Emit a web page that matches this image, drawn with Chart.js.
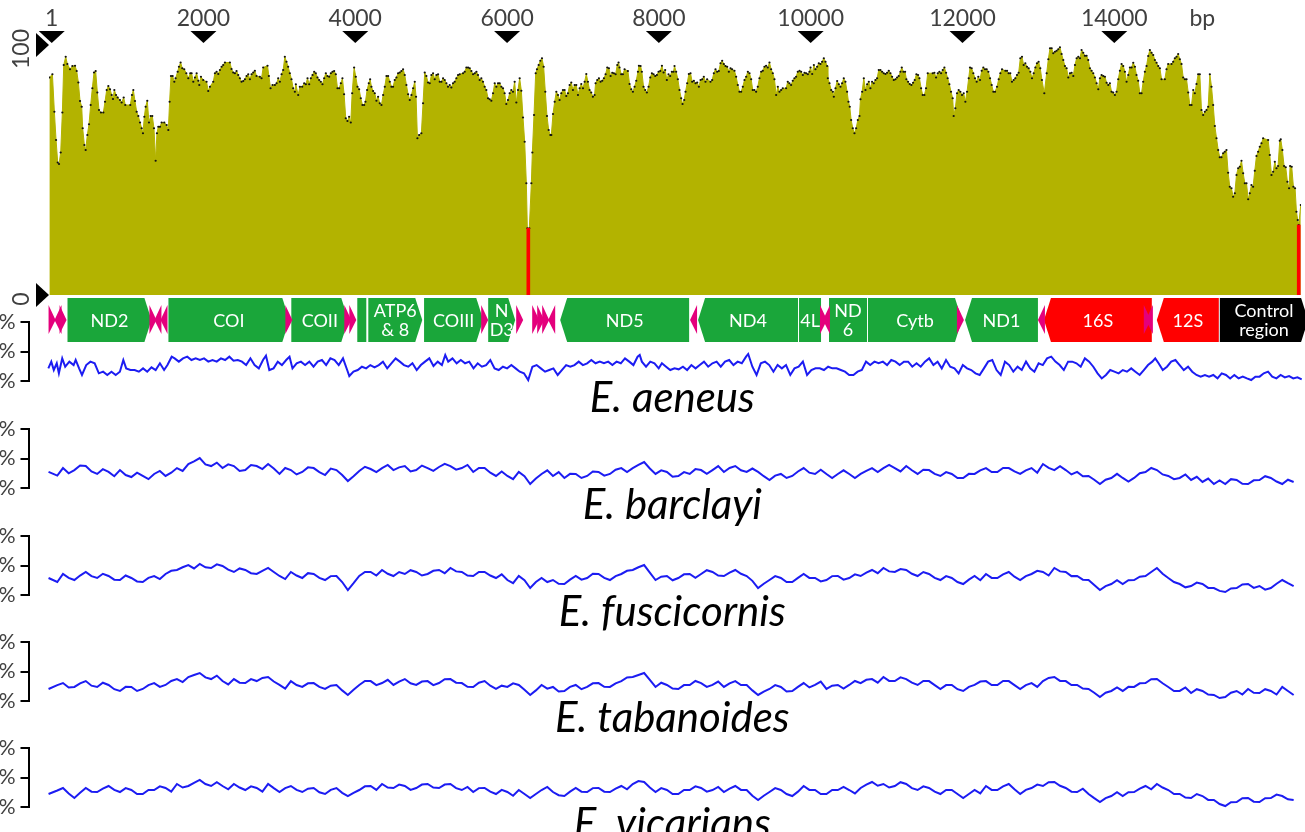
<!DOCTYPE html>
<html><head><meta charset="utf-8">
<script src="https://cdn.jsdelivr.net/npm/chart.js@4.4.0/dist/chart.umd.min.js"></script>
<style>
html,body{margin:0;padding:0;background:#fff;width:1305px;height:832px;overflow:hidden;position:relative;}
canvas{position:absolute;}
</style></head><body>
<canvas id="cov" width="1305" height="346" style="left:0;top:0"></canvas>
<canvas id="p1" width="1345" height="111" style="left:-40px;top:310px"></canvas>
<canvas id="p2" width="1345" height="111" style="left:-40px;top:417px"></canvas>
<canvas id="p3" width="1345" height="111" style="left:-40px;top:524px"></canvas>
<canvas id="p4" width="1345" height="111" style="left:-40px;top:630px"></canvas>
<canvas id="p5" width="1345" height="111" style="left:-40px;top:736px"></canvas>
<script>
// ---------- DATA ----------
const xTickValues = [1,2000,4000,6000,8000,10000,12000,14000];
const xTickLabels = ['1','2000','4000','6000','8000','10000','12000','14000'];
const unitLabel = 'bp';
const unitLabelPos = 15160;
const yTickValues = [0,100];
const yTickLabels = ['0','100'];

// coverage (identity %) along the mitogenome, bp positions
const covPos = [
-30,10,36,58,80,97,119,141,159,185,
207,242,273,308,330,352,374,396,409,431,
448,470,492,514,536,558,580,602,624,650,
681,703,725,747,769,791,808,826,848,870,
900,922,949,970,1036,1058,1076,1098,1120,1142,
1164,1186,1203,1221,1238,1260,1282,1304,1326,1348,
1370,1387,1405,1427,1449,1484,1515,1537,1554,1572,
1594,1616,1633,1660,1677,1699,1721,1747,1774,1800,
1826,1844,1866,1888,1910,1932,1945,1967,1997,2041,
2063,2085,2129,2151,2173,2195,2217,2239,2260,2283,
2348,2370,2392,2414,2436,2458,2480,2502,2524,2546,
2568,2590,2612,2634,2656,2677,2699,2743,2765,2787,
2844,2862,2884,2910,2941,2963,2985,3007,3029,3050,
3072,3094,3116,3138,3160,3182,3204,3217,3248,3270,
3301,3327,3349,3371,3393,3415,3437,3459,3480,3502,
3524,3546,3568,3590,3612,3634,3656,3678,3700,3722,
3744,3766,3788,3810,3831,3853,3875,3897,3919,3941,
3959,3985,4007,4029,4051,4073,4095,4117,4134,4156,
4178,4196,4213,4235,4257,4279,4301,4323,4345,4367,
4389,4411,4433,4455,4477,4498,4520,4542,4564,4586,
4608,4630,4652,4674,4696,4718,4740,4762,4784,4801,
4819,4841,4871,4893,4915,4937,4959,4981,5003,5025,
5047,5069,5091,5113,5135,5157,5179,5201,5222,5244,
5266,5288,5310,5332,5354,5376,5420,5442,5464,5486,
5508,5530,5552,5574,5596,5617,5639,5661,5683,5705,
5727,5749,5771,5793,5815,5837,5859,5881,5903,5925,
5947,5968,5990,6012,6034,6056,6078,6100,6122,6144,
6166,6188,6210,6232,6254,6267,6293,6320,6333,6355,
6377,6394,6416,6438,6460,6482,6504,6526,6548,6570,
6583,6605,6627,6649,6671,6692,6714,6736,6758,6780,
6802,6824,6846,6868,6890,6912,6934,6956,6978,7000,
7022,7044,7065,7087,7109,7131,7153,7166,7188,7210,
7232,7254,7276,7298,7320,7342,7364,7386,7408,7430,
7452,7469,7482,7504,7526,7548,7592,7614,7636,7658,
7680,7702,7724,7737,7759,7776,7798,7820,7842,7864,
7886,7908,7930,7952,7974,7996,8018,8040,8062,8083,
8105,8127,8149,8171,8193,8206,8228,8250,8272,8294,
8312,8334,8351,8373,8395,8417,8439,8461,8483,8505,
8527,8549,8571,8592,8614,8636,8680,8702,8724,8746,
8768,8790,8812,8834,8856,8878,8900,8922,8944,8965,
8996,9018,9040,9062,9084,9106,9128,9150,9172,9194,
9216,9237,9259,9281,9303,9325,9347,9369,9391,9413,
9435,9457,9479,9501,9523,9545,9567,9589,9610,9632,
9676,9698,9720,9742,9764,9786,9808,9830,9853,9875,
9897,9919,9941,9963,9984,9998,10020,10042,10063,10085,
10107,10129,10151,10173,10195,10217,10226,10248,10270,10292,
10305,10327,10349,10371,10393,10414,10436,10458,10480,10498,
10515,10533,10555,10577,10599,10621,10643,10656,10678,10700,
10722,10744,10766,10787,10809,10831,10853,10875,10897,10919,
10941,10963,10985,11007,11029,11051,11073,11095,11117,11138,
11160,11182,11200,11222,11244,11261,11283,11305,11327,11349,
11371,11393,11415,11433,11455,11476,11498,11520,11542,11608,
11630,11652,11674,11696,11718,11740,11762,11784,11805,11827,
11849,11871,11884,11906,11928,11950,11972,11994,12016,12038,
12060,12082,12099,12121,12143,12165,12187,12209,12231,12253,
12275,12297,12319,12341,12363,12385,12407,12429,12455,12477,
12499,12521,12565,12587,12608,12630,12652,12674,12696,12718,
12740,12762,12784,12806,12828,12850,12872,12894,12916,12938,
12960,12981,13003,13025,13047,13078,13109,13131,13153,13175,
13196,13218,13240,13262,13284,13306,13328,13350,13372,13394,
13416,13438,13460,13482,13504,13526,13548,13569,13591,13613,
13635,13657,13679,13701,13723,13745,13767,13789,13811,13833,
13855,13877,13899,13921,13942,13964,13986,14008,14030,14052,
14074,14096,14118,14140,14162,14184,14206,14228,14250,14272,
14293,14315,14337,14359,14381,14403,14425,14447,14469,14491,
14513,14535,14557,14579,14601,14623,14666,14688,14710,14754,
14776,14798,14820,14842,14864,14886,14908,14930,14952,14974,
14996,15018,15040,15061,15083,15105,15127,15149,15171,15193,
15215,15237,15259,15281,15303,15325,15347,15369,15390,15412,
15434,15456,15478,15500,15522,15544,15566,15588,15610,15632,
15654,15676,15698,15720,15742,15764,15785,15807,15829,15851,
15873,15895,15917,15939,15961,16027,16049,16071,16093,16115,
16137,16158,16180,16193,16215,16237,16259,16281,16303,16316,
16338,16360,16382,16400,16417,16430,16457
];
const covVal = [
87,88.3,73.3,62,53,52.4,57,73,92,95.3,
92.4,90.3,91.6,91.7,89.6,85,77.6,75.3,66.7,60,
58,64,68.3,76,82.7,89,89.6,81,74,73,
73,77.3,82,83.6,82.3,80,78.4,82,80,79,
78,77,79,76,76,80,82,77.6,73.3,71.6,
69,66.7,64.7,71.3,75.3,77.7,69,71.6,71.6,66.7,
53.7,64.7,67.3,67.3,69,69,68,66,77.3,87.6,
87.6,85.3,86.7,89.3,91.3,93,90.7,90.3,88.7,86.7,
88.7,88.7,85.3,87,88.7,85.7,84,87.3,86,85.3,
81.6,83.3,85.3,88.7,89.3,88.4,90,91.3,92,93,
93,90.4,89,88.7,89.6,88,86.7,85.3,85.6,86.3,
87.6,88.3,86.3,88.3,89,89.7,87.6,87.3,86.7,91,
91.7,87.6,82.7,84,84,84.7,86.7,85.3,88.3,90,
95.3,93.3,91.3,88.7,86.3,82.7,81.3,84.3,80,83.3,
83.3,84.7,84.3,86.7,84.3,86.7,88,89.3,88.7,87,
86,85.3,84.3,86.7,88.7,87.6,87.3,88.7,89.3,89.6,
88.3,82.7,82.7,84.7,86.7,80.3,70.7,69.6,71.3,69,
80.7,91,87.3,83.3,82.3,78.7,76,76,77.3,82,
84.7,86.3,83.3,81.6,80.7,77.7,79.3,76.7,76,80,
83.3,87.6,87.6,85.3,83.3,83.3,86,87,88.7,89,
89.6,90.3,88,84,80.3,78,80,82.7,85.3,79.3,
62.7,64,64.7,76.7,89,87.6,85,84.7,88,88.7,
86.3,88,88.3,85.3,85.3,86.7,86,84.7,83.3,84,
83,84.7,85.3,86.7,88,88.3,88.7,89.3,91,91,
90.7,89.6,88.3,88.7,89.3,88,86,86.7,85.3,83.3,
82,78.7,78.3,77.7,80.7,84.7,83.3,84.7,84.7,83.3,
82.7,80.7,76.4,78,80.7,82,81.3,85.3,77,82,
86.7,81.7,71,61.3,44.7,26.7,26.7,44.7,57,72,
88.7,90.3,92,93.7,94.7,91.3,81.3,71.6,66,64,
64,72.4,77.3,81.3,80,78,80.7,82,82,79.6,
80.7,84,85,82,84,84,80,82.7,84.4,82.7,
85.3,88.4,85.3,82,81,79.3,80,84.7,86,86.7,
85.3,85.7,86.7,88.3,91,90.7,87.6,88.9,88.7,88.3,
92,93,91,88.3,88.3,90.3,89.6,84.4,82.3,81.3,
83.3,85.7,89.3,91.7,91.6,89.3,83.3,82,81,83.3,
87,88.7,88.3,87.6,88,89.3,89.6,91.7,89,90,
86,88.3,87.6,89.3,89.3,91.6,89.3,86.3,82,78.7,
76.4,78,81.3,84.7,88.4,88.7,85.3,85.7,84.7,85,
83.3,86,86.3,87.3,85.3,86.3,85.3,86,88.7,90.3,
89.3,89.6,92.7,93.7,92.4,91.6,91.3,89.3,90.7,90.3,
89.7,87.3,84,81.3,81.3,83.3,86,87.3,89.3,88.7,
86.3,82,82,81.3,83.3,86.7,89.3,89.7,91.3,91.7,
91,93,90.3,88.7,86.3,80,83.3,81.3,82,82.7,
82.7,85.3,84.7,84,85.7,86.7,87.3,89.3,89.7,89.3,
88,88.9,88.7,88.3,89.3,91,88.4,92,90.3,91.3,
92.7,92.4,93.3,94.7,93.3,91.6,86.7,84.7,82,81.3,
79.3,82.7,85.6,84.3,83.3,84.7,86.7,85.3,81.3,77.3,
75.3,70,66.7,64.7,66.7,70,71.6,78.3,81.3,86.7,
82,84.3,85.3,82.7,85.3,84.7,86,86.7,90,90,
89.3,88.7,88.4,88.9,89.7,88.7,87.3,86,86.3,87,
87.6,89.3,91,89.3,89.3,86.3,85.3,84.4,84,84.9,
86,88.3,88,86.7,82.7,80,80,82.7,88.7,88.7,
88.9,87,88.7,89.3,88.7,90,91,88.9,86.7,84.3,
81.3,78.7,71.6,74.7,80.7,82,81.3,80,80.7,77.3,
81.3,86.7,91,90.7,88.7,86.7,85.3,87.3,86,89.7,
91,90.3,90.3,89.3,86.7,84,81.3,81.3,83.3,86.3,
88.7,90.3,89.7,89.7,88.7,88.7,85.3,86,86.7,88,
88.9,94.7,95.3,92,92.7,91.3,90.7,89.3,86.7,88.7,
91,92.7,93.3,90.7,86,80.7,88.7,94.3,98.7,98.7,
96.7,97.3,97.7,98.3,99.1,96.4,94,91.6,90.7,87,
88.7,88.9,87.6,92,94.7,95.3,94.7,98,96.9,95.7,
95.7,94,90.7,89.7,88.7,87,84.7,82.3,86.7,88,
87.6,87.3,84.9,84,84.7,81.3,81,80,81.3,86.3,
89.7,92.4,91.6,89.3,85.3,88,91,91,92.9,91.3,
88,85.7,80.7,80.7,85.3,89.3,91.6,95.6,98,96.9,
96,94,92.9,91.6,90.7,86.3,86.3,90.3,92.4,92.4,
93.3,94.7,95.3,96.4,94.3,92.4,87,86.3,86.3,81,
76,76,82,80.7,84.4,88.3,88.3,74,72,73.3,
74,75.3,88.3,83.3,76,67.6,62.7,58,55.1,55.1,
56.7,57.3,58,48.9,43.3,42.7,39.3,40.7,48,50.7,
51.3,53.7,48.7,44.7,44.7,38.3,40.7,44,43.3,49.7,
55.6,57.3,59.3,60.7,62.7,62,56,48,49.3,53.3,
50.7,51.6,61.7,62.3,58,51.6,51.1,45.3,42.7,51.6,
51.3,43.3,42.7,33.3,30,28,36
];
// positions with missing data (drawn in red)
const redPos = [6280, 16430];
const redVal = [26.7, 28];

// gene map
const geneNames  = ['ND2','COI','COII','','ATP6\n& 8','COIII','N\nD3','ND5','ND4','4L','ND\n6','Cytb','ND1','16S','12S','Control\nregion'];
const geneStart  = [202,1532,3151,4020,4165,4900,5745,6693,8510,9840,10235,10749,12027,13067,14554,15384];
const geneEnd    = [1321,3138,3915,4152,4889,5693,6114,8405,9840,10143,10749,12000,13001,14501,15384,16560];
const geneStrand = [1,1,1,0,1,1,1,-1,-1,0,0,1,-1,-1,-1,1];
const geneKind   = ['pcg','pcg','pcg','pcg','pcg','pcg','pcg','pcg','pcg','pcg','pcg','pcg','pcg','rrna','rrna','cr'];
const trnaPos    = [5,84,150,1334,1400,1480,3125,3902,3968,5705,6166,6377,6443,6509,6588,8457,10169,10208,11973,13040,14435,14462];
const trnaStrand = [1,-1,1,1,-1,-1,1,1,1,1,1,1,1,1,-1,-1,1,-1,1,-1,1,-1];

// species content profiles (%)
const speciesNames = ['E. aeneus','E. barclayi','E. fuscicornis','E. tabanoides','E. vicarians'];
const panelTicks = [50,75,100];
const p1Pos = [
-43,-4,29,68,96,140,179,234,290,317,
362,400,456,511,567,622,678,733,788,844,
899,944,982,1038,1093,1149,1204,1259,1315,1370,
1426,1481,1525,1581,1620,1675,1730,1786,1841,1897,
1952,2007,2063,2118,2174,2229,2284,2340,2395,2451,
2506,2561,2617,2672,2728,2783,2822,2866,2922,2977,
3032,3088,3132,3171,3226,3282,3337,3393,3448,3503,
3559,3614,3670,3725,3780,3836,3891,3919,3974,4030,
4085,4141,4196,4251,4307,4362,4418,4473,4529,4584,
4639,4695,4750,4806,4861,4916,4972,5027,5083,5138,
5182,5221,5277,5332,5387,5443,5498,5554,5609,5664,
5720,5775,5831,5886,5941,5997,6052,6108,6163,6218,
6274,6329,6385,6440,6496,6551,6606,6662,6717,6773,
6828,6883,6939,6994,7050,7105,7160,7216,7271,7327,
7382,7437,7493,7548,7604,7659,7714,7742,7770,7825,
7881,7936,7992,8034,8089,8144,8200,8255,8311,8366,
8422,8477,8532,8588,8643,8699,8754,8809,8865,8920,
8976,9031,9086,9142,9170,9225,9280,9336,9391,9447,
9502,9557,9613,9668,9724,9779,9834,9890,9945,10001,
10056,10112,10167,10222,10278,10333,10389,10444,10499,10555,
10610,10666,10721,10776,10832,10887,10943,10998,11053,11109,
11164,11220,11275,11330,11386,11441,11497,11552,11608,11663,
11718,11774,11829,11885,11940,11995,12051,12106,12162,12217,
12273,12328,12383,12439,12494,12550,12605,12660,12716,12771,
12827,12882,12937,12993,13048,13104,13159,13214,13270,13325,
13381,13436,13491,13547,13602,13658,13713,13769,13824,13879,
13935,13990,14046,14101,14156,14212,14267,14323,14378,14433,
14489,14528,14572,14627,14683,14738,14794,14849,14904,14960,
15015,15071,15126,15182,15237,15292,15348,15403,15459,15514,
15569,15625,15680,15735,15791,15846,15902,15957,16013,16068,
16123,16179,16234,16290,16345,16400,16456
];
const p1Val = [
60.7,66.4,59.3,65,56.5,69.2,62.1,66.4,63.5,67.8,
60.7,55.1,63.5,66.4,65,56.5,57.9,55.1,57.9,55.1,
57.9,67.8,60.7,59.3,59.3,57.9,60.7,57.9,61.6,59.3,
65,59.3,63.5,70.6,69.2,66.4,69.2,70.6,67.8,69.2,
67.8,69.2,66.4,67.8,66.4,69.2,67.8,70.6,67.2,67.8,
66.4,63.5,69.2,63.5,60.7,67.8,71.5,59.3,60.7,66.4,
63.5,67.8,70.6,60.7,65,66.4,63.5,66.4,62.1,66.4,
67.8,63.5,69.2,67.8,63.5,69.2,59.3,54.2,57.9,59.3,
62.1,60.7,63.5,61.6,63.5,66.4,60.7,65,69.2,66.4,
63.5,62.1,65,59.3,63.5,66.4,69.2,62.7,66.4,63.5,
72,66.4,69.2,65,67.8,65,66.4,60.7,65,62.1,
63.5,67.8,60.7,59.3,62.1,60.7,63.5,60.7,57.9,56.5,
50.8,62.1,63.5,60.7,57.9,59.3,60.7,55.1,59.3,63.5,
62.1,63.5,66.4,63.5,65,67.8,65,66.4,65,66.4,
63.5,66.4,65,69.2,66.4,63.5,70.6,72,66.4,62.1,
66.4,65,60.7,65,62.1,59.3,60.7,59.9,62.1,59.3,
63.5,60.7,63.5,66.4,62.1,65,66.4,62.1,66.4,67.8,
63.5,66.4,65,70.6,72.9,62.1,55.1,65,66.4,63.5,
57.9,63.5,60.7,63.5,55.1,60.7,62.1,66.4,55.1,59.3,
60.7,60.7,59.3,62.1,60.7,60.7,59.3,57.9,55.1,55.1,
57.9,59.3,66.4,63.5,66.4,65,66.4,63.5,67.8,66.4,
63.5,66.4,66.4,62.1,65,62.1,66.4,69.2,63.5,66.4,
60.7,67.8,62.1,60.7,56.5,63.5,60.7,59.3,56.5,55.1,
60.7,66.4,67.8,59.3,55.1,66.4,63.5,57.9,62.1,59.3,
66.4,60.7,57.9,65,63.5,69.2,70.6,66.4,63.5,59.3,
66.4,66.4,65,62.1,69.2,66.4,62.1,56.5,52.2,55.1,
59.3,57.9,56.5,59.3,57.9,60.7,57.9,55.1,59.3,63.5,
66.4,69.2,65,59.3,62.1,66.4,67.8,63.5,59.3,62.1,
57.9,55.1,53.7,55.1,53.7,55.1,52.2,56.5,55.1,52.2,
55.1,52.2,53.7,52.2,50.8,53.7,53.7,56.5,57.9,53.7,
52.2,55.1,53.1,54.2,52.2,53.1,51.4
];
// shared window positions for the other four species
const linePos = [
-40,75,150,225,300,375,450,525,600,675,750,825,900,975,1050,1125,1200,1275,1350,1425,
1500,1575,1650,1725,1800,1875,1950,2025,2100,2175,2250,2325,2400,2475,2550,2625,2700,2775,2850,2925,
3000,3075,3150,3225,3300,3375,3450,3525,3600,3675,3750,3825,3900,3975,4050,4125,4200,4275,4350,4425,
4500,4575,4650,4725,4800,4875,4950,5025,5100,5175,5250,5325,5400,5475,5550,5625,5700,5775,5850,5925,
6000,6075,6150,6225,6300,6375,6450,6525,6600,6675,6750,6825,6900,6975,7050,7125,7200,7275,7350,7425,
7500,7575,7650,7725,7800,7875,7950,8025,8100,8175,8250,8325,8400,8475,8550,8625,8700,8775,8850,8925,
9000,9075,9150,9225,9300,9375,9450,9525,9600,9675,9750,9825,9900,9975,10050,10125,10200,10275,10350,10425,
10500,10575,10650,10725,10800,10875,10950,11025,11100,11175,11250,11325,11400,11475,11550,11625,11700,11775,11850,11925,
12000,12075,12150,12225,12300,12375,12450,12525,12600,12675,12750,12825,12900,12975,13050,13125,13200,13275,13350,13425,
13500,13575,13650,13725,13800,13875,13950,14025,14100,14175,14250,14325,14400,14475,14550,14625,14700,14775,14850,14925,
15000,15075,15150,15225,15300,15375,15450,15525,15600,15675,15750,15825,15900,15975,16050,16125,16200,16275,16350
];
const p2Val = [
63.6,60.5,66.9,62.5,65.2,69,68.6,64,61.9,66,63.6,60,65.2,61,59.3,63,60.2,57.5,61.9,64.5,
60.2,63,66.9,64.5,70.3,72.5,75.4,70,68.6,71.5,66.9,70,68.6,64.5,65.2,69.5,68.6,66,70.3,66.5,
61.9,67,65.2,61.5,63.6,67.5,66.9,63.5,61,66.5,65.2,61,55.9,60,64.4,68,66.1,63.5,66.9,69.5,
65.2,67.5,68.6,64,65.2,69,66.9,64.5,67.8,70.5,68.6,65.5,66.9,69.5,63.6,67,66.9,63,60.2,64,
60.2,57.5,63.6,60,53.4,58,61.9,65,60.2,63.5,58.5,62,61.9,58.5,60.2,64,63.6,60.5,61.9,65.5,
66.9,63.5,66.9,69.5,72,66.5,61.9,65,63.6,59.5,60.2,63.5,61.9,66,65.2,62,65.2,68.5,63.6,67,
68.6,65,63.6,66.5,63.6,60,56.8,60.5,61.9,58.5,60.2,64,66.9,63,61.9,65.5,61.9,58.5,61.9,65,
61.9,58.5,61.9,64.5,66.9,63.5,66.9,69.5,66.9,64,68.6,65,61.9,65.5,65.2,62,60.2,63.5,61.9,58.5,
58.5,62,61.9,65,66.9,63.5,63.6,67,66.9,64,61.9,65,66.9,63,70.3,67,65.2,68.5,65.2,61.5,
63.6,60,60.2,57,53.4,57,58.5,62,58.5,55.5,58.5,62.5,63.6,67,65.2,61.5,60.2,57.5,58.5,61.5,
56.8,59.5,55.1,58,53.4,56.5,53.4,57.5,56.8,53.5,53.4,56.5,56.8,60,58.5,55.5,53.4,57,55.1
];
const p3Val = [
64.4,61,67.8,64.5,62.7,66.5,69.5,66,64.4,68,66.1,63,62.7,66.5,64.4,61.5,61,64.5,66.1,63.5,
67.8,70.5,71.2,73.5,75.4,72.5,76.3,73.5,72.9,76,74.6,71.5,69.5,72.5,71.2,68.5,67.8,70.5,72.9,69.5,
66.1,63.5,69.5,66.5,64.4,68.5,67.8,64.5,62.7,66,66.1,61,54.2,60,66.1,69.5,69.5,66.5,71.2,68,
66.1,69.5,67.8,71,69.5,66.5,67.8,70.5,71.2,68.5,72.9,70,69.5,66.5,66.1,69.5,69.5,66.5,64.4,67.5,
62.7,60,66.1,62.5,55.9,61,64.4,61,62.7,59.5,59.3,63,66.1,63,64.4,68,67.8,64.5,62.7,66,
67.8,70.5,71.2,73.5,75.4,69,62.7,65.5,66.1,62.5,64.4,67.5,67.8,64.5,67.8,71,69.5,66.5,66.1,69,
71.2,68,66.1,62,55.9,59.5,62.7,66,64.4,61,61,64.5,67.8,64.5,64.4,61.5,62.7,66,66.1,63,
64.4,67.5,66.1,69,71.2,68.5,72.9,70,69.5,72,71.2,68,66.1,69.5,67.8,64.5,62.7,66,64.4,61,
59.3,63,66.1,62.5,67.8,64.5,64.4,67.5,69.5,65.5,62.7,66,67.8,70.5,69.5,66.5,72.9,70,69.5,66,
66.1,63,62.7,58.5,54.2,57.5,59.3,62.5,59.3,62.5,62.7,65.5,66.1,69.5,72.9,68,64.4,61,59.3,56.5,
57.6,60.5,59.3,56,55.9,53.5,52.5,55.5,55.9,59,59.3,56,57.6,54.5,55.9,59.5,62.7,60,57.6
];
const p4Val = [
60.2,63.5,65.2,61.5,61.9,65,66.9,63,61.9,65.5,63.6,60,58.5,62,61.9,58.5,60.2,63.5,65.2,62,
63.6,67,68.6,66,70.3,72,73.7,70,68.6,71.5,66.9,64,68.6,65.5,65.2,68.5,66.9,69.5,70.3,66.5,
63.6,60.5,66.9,63.5,61.9,65,65.2,62,60.2,63,63.6,59,55.1,59.5,63.6,67,66.9,63.5,65.2,68,
63.6,66.5,68.6,65,63.6,66.5,66.9,63.5,65.2,68.5,68.6,65.5,65.2,62,61.9,65.5,66.9,63,60.2,63,
61.9,65,63.6,59.5,55.1,59,63.6,60.5,61.9,58,58.5,62,63.6,60,61.9,65,65.2,62,61.9,65,
66.9,70,70.3,72,73.7,68,61.9,65.5,63.6,60.5,60.2,63.5,63.6,67,65.2,62,63.6,66.5,61.9,65,
66.9,63.5,63.6,59,55.1,58,60.2,63.5,61.9,58,58.5,62,65.2,61.5,63.6,66.5,60.2,63,63.6,60.5,
63.6,67,65.2,68,68.6,65.5,70.3,67,66.9,70,68.6,65.5,63.6,67,66.9,63.5,60.2,63.5,63.6,60,
58.5,62,63.6,66.5,66.9,63.5,63.6,67,66.9,63.5,60.2,63.5,65.2,62,66.9,69.5,70.3,67,66.9,63.5,
63.6,60.5,60.2,57,53.4,57,58.5,61.5,58.5,62,61.9,65,65.2,68.5,68.6,65,61.9,58.5,58.5,61.5,
56.8,60,58.5,55.5,55.1,52.5,53.4,57,58.5,55.5,60.2,57,56.8,60,58.5,55.5,61.9,58.5,55.1
];
const p5Val = [
61,64,66.1,61.5,57.6,62,66.1,63,62.7,65.5,67.8,64.5,62.7,66,64.4,61,61,64.5,64.4,67.5,
66.1,63,69.5,66.5,67.8,70.5,72.9,69.5,67.8,71,67.8,65,69.5,66.5,64.4,67.5,66.1,63,69.5,66,
62.7,66,67.8,64.5,62.7,65.5,66.1,62.5,61,64.5,66.1,62,59.3,62,64.4,67.5,67.8,64.5,69.5,66.5,
66.1,69,67.8,64.5,66.1,69,69.5,66.5,66.1,69,69.5,66,64.4,67,62.7,66,66.1,63,61,64.5,
62.7,59.5,64.4,61,57.6,61,64.4,67,62.7,60,59.3,63,66.1,63,62.7,66,66.1,63,62.7,65.5,
67.8,65,69.5,72,71.2,66.5,62.7,66,64.4,61,61,64.5,64.4,67.5,66.1,63,64.4,67,62.7,65.5,
67.8,64.5,64.4,59.5,55.9,59.5,62.7,66,64.4,61,59.3,63,67.8,64.5,64.4,61,61,64.5,64.4,67,
64.4,61.5,66.1,69,71.2,68,69.5,66.5,67.8,71,69.5,66,64.4,67.5,66.1,63,61,64.5,64.4,61,
57.6,61,64.4,61.5,67.8,64.5,64.4,67.5,69.5,65,61,64.5,66.1,69,67.8,71,71.2,68,66.1,63,
62.7,65.5,61,57.5,54.2,57.5,59.3,62.5,59.3,62.5,62.7,65.5,67.8,65,69.5,66.5,64.4,61,61,58,
57.6,61,59.3,56,55.9,52.5,50.8,54,54.2,57.5,57.6,54.5,54.2,57.5,57.6,60.5,59.3,56.5,55.9
];

// ---------- STYLE / RENDER ----------
const FONT = 'Lato, "Open Sans", sans-serif';
const OLIVE = '#b3b300';
const kindColor = {pcg:'#1aa63a', rrna:'#ff0000', cr:'#000000'};
const TRNA_COLOR = '#e4007c';
const BLUE = '#1c1cf2';
const X_MIN_TOP = -35, X_MAX = 16460, X_MIN_PANEL = -304;

const covDecor = {
  id:'covDecor',
  afterDraw(chart){
    const {ctx, chartArea, scales:{x, y}} = chart;
    ctx.save();
    ctx.font = '23px ' + FONT; ctx.textAlign = 'center'; ctx.textBaseline = 'alphabetic';
    xTickValues.forEach((v,i)=>{
      const px = x.getPixelForValue(v);
      ctx.fillStyle = '#404040';
      ctx.fillText(xTickLabels[i], px, 26);
      ctx.fillStyle = '#000';
      ctx.beginPath(); ctx.moveTo(px-13,31); ctx.lineTo(px+13,31); ctx.lineTo(px,43); ctx.closePath(); ctx.fill();
    });
    ctx.fillStyle = '#404040';
    ctx.fillText(unitLabel, x.getPixelForValue(unitLabelPos), 26);
    yTickValues.forEach((v,i)=>{
      const py = y.getPixelForValue(v);
      ctx.fillStyle = '#000';
      ctx.beginPath(); ctx.moveTo(36,py-12); ctx.lineTo(36,py+12); ctx.lineTo(49,py); ctx.closePath(); ctx.fill();
      ctx.save();
      ctx.translate(22, py + 4); ctx.rotate(-Math.PI/2);
      ctx.fillStyle = '#404040'; ctx.textAlign = 'center'; ctx.textBaseline = 'middle';
      ctx.fillText(yTickLabels[i], 0, 0);
      ctx.restore();
    });
    // gene map
    const top = chartArea.bottom + 3, h = 44, mid = top + h/2, tip = 7;
    geneStart.forEach((s,i)=>{
      const x1 = x.getPixelForValue(s) + 0.5, x2 = x.getPixelForValue(geneEnd[i]) - 0.5;
      const t = Math.min(tip, (x2-x1)/3);
      ctx.fillStyle = kindColor[geneKind[i]];
      ctx.beginPath();
      if (geneStrand[i] > 0) {
        ctx.moveTo(x1,top); ctx.lineTo(x2-t,top); ctx.lineTo(x2,mid); ctx.lineTo(x2-t,top+h); ctx.lineTo(x1,top+h);
      } else if (geneStrand[i] < 0) {
        ctx.moveTo(x2,top); ctx.lineTo(x1+t,top); ctx.lineTo(x1,mid); ctx.lineTo(x1+t,top+h); ctx.lineTo(x2,top+h);
      } else {
        ctx.rect(x1, top, x2-x1, h);
      }
      ctx.closePath(); ctx.fill();
      const lines = geneNames[i] ? geneNames[i].split('\n') : [];
      ctx.fillStyle = '#fff'; ctx.font = '18px ' + FONT; ctx.textAlign = 'center'; ctx.textBaseline = 'middle';
      const cx = (x1 + x2)/2;
      lines.forEach((ln,j)=> ctx.fillText(ln, cx, mid + 1 + (j - (lines.length-1)/2)*19));
    });
    ctx.fillStyle = TRNA_COLOR;
    trnaPos.forEach((p,i)=>{
      const px = x.getPixelForValue(p), s = trnaStrand[i];
      ctx.beginPath();
      ctx.moveTo(px - 3.5*s, top + 7); ctx.lineTo(px + 3.5*s, mid); ctx.lineTo(px - 3.5*s, top + h - 8);
      ctx.closePath(); ctx.fill();
    });
    ctx.restore();
  }
};

new Chart(document.getElementById('cov'), {
  type:'line',
  data:{datasets:[
    {type:'bar', data: redPos.map((p,i)=>({x:p, y:redVal[i]})), backgroundColor:'#ff0000', barThickness:3, order:0},
    {type:'line', data: covPos.map((p,i)=>({x:p, y:covVal[i]})), fill:'origin', backgroundColor:OLIVE,
     borderColor:OLIVE, borderWidth:1, tension:0, pointRadius:1.1, pointBackgroundColor:'#111', pointBorderWidth:0, order:1}
  ]},
  options:{
    responsive:false, animation:false, events:[],
    layout:{padding:{left:49, right:3, top:45, bottom:51}},
    plugins:{legend:{display:false}, tooltip:{enabled:false}},
    scales:{
      x:{type:'linear', display:false, offset:false, grid:{offset:false}, min:X_MIN_TOP, max:X_MAX},
      y:{display:false, min:0, max:100}
    }
  },
  plugins:[covDecor]
});

const panelTitle = {
  id:'panelTitle',
  afterDraw(chart, args, opts){
    const {ctx, chartArea, scales:{x}} = chart;
    ctx.save();
    ctx.font = 'italic 42px ' + FONT; ctx.fillStyle = '#000';
    ctx.textAlign = 'center'; ctx.textBaseline = 'middle';
    const cx = (x.getPixelForValue(linePos[0]) + chartArea.right)/2 - 3;
    ctx.fillText(opts.text, cx, chartArea.bottom + 17);
    ctx.restore();
  }
};

function makePanel(id, pos, vals, title){
  new Chart(document.getElementById(id), {
    type:'line',
    data:{datasets:[{data: pos.map((p,i)=>({x:p, y:vals[i]})), borderColor:BLUE, borderWidth:2,
      pointRadius:0, tension:0, fill:false, clip:false}]},
    options:{
      responsive:false, animation:false, events:[],
      layout:{padding:{left:0, right:3, top:12, bottom:40}},
      plugins:{legend:{display:false}, tooltip:{enabled:false}, panelTitle:{text:title}},
      scales:{
        x:{type:'linear', display:false, min:X_MIN_PANEL, max:X_MAX},
        y:{min:50, max:100,
           afterBuildTicks:s=>{ s.ticks = panelTicks.map(v=>({value:v})); },
           afterFit:s=>{ s.width = 68.5; s.paddingTop = 0; s.paddingBottom = 0; },
           ticks:{callback:v=>v+'%', font:{family:FONT, size:21}, color:'#404040', padding:5},
           grid:{drawOnChartArea:false, drawTicks:true, tickLength:8, color:'#000', lineWidth:2},
           border:{display:true, color:'#000', width:2}}
      }
    },
    plugins:[panelTitle]
  });
}
makePanel('p1', p1Pos, p1Val, speciesNames[0]);
makePanel('p2', linePos, p2Val, speciesNames[1]);
makePanel('p3', linePos, p3Val, speciesNames[2]);
makePanel('p4', linePos, p4Val, speciesNames[3]);
makePanel('p5', linePos, p5Val, speciesNames[4]);
</script>
</body></html>
